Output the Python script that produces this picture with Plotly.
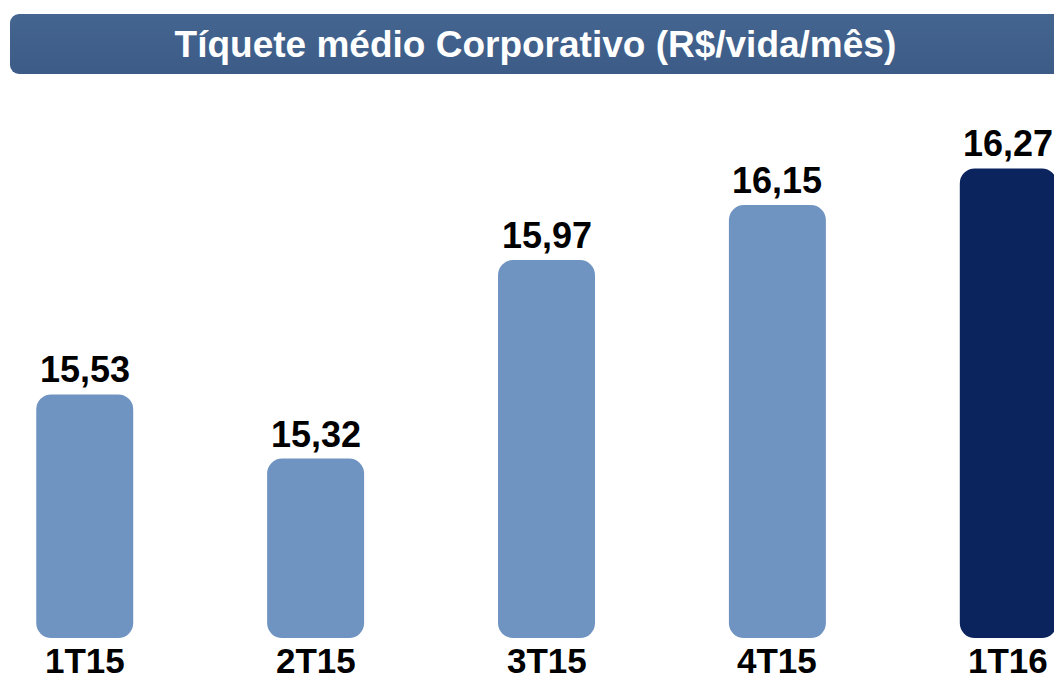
import plotly.graph_objects as go

categories = ["1T15", "2T15", "3T15", "4T15", "1T16"]
values = [15.53, 15.32, 15.97, 16.15, 16.27]
value_labels = ["15,53", "15,32", "15,97", "16,15", "16,27"]
bar_colors = ["#6F94C1", "#6F94C1", "#6F94C1", "#6F94C1", "#0B245E"]
title_text = "Tíquete médio Corporativo (R$/vida/mês)"

FONT = "Liberation Sans, Arial, sans-serif"
W, H = 1054, 682
MT, MB = 100, 36
PH = H - MT - MB
BAR_FLOOR = 14.732          # visual baseline of the bars
Y_RANGE = [14.706, 16.494]  # value axis (hidden)

fig = go.Figure()
fig.add_trace(go.Bar(
    x=categories, y=[v - BAR_FLOOR for v in values], base=BAR_FLOOR,
    customdata=values,
    marker=dict(color=bar_colors, cornerradius=15, line=dict(width=0)),
    width=0.42, hoverinfo="skip",
))

for c, v, t in zip(categories, values, value_labels):
    fig.add_annotation(
        x=c, y=v, text=f"<b>{t}</b>", showarrow=False,
        yanchor="bottom", yshift=2,
        font=dict(family=FONT, size=36, color="#000000"),
    )
for c in categories:
    fig.add_annotation(
        x=c, y=0, yref="paper", text=f"<b>{c}</b>", showarrow=False,
        yanchor="top", yshift=7,
        font=dict(family=FONT, size=35, color="#000000"),
    )

fig.update_layout(
    width=W, height=H,
    margin=dict(l=0, r=0, t=MT, b=MB),
    paper_bgcolor="#FFFFFF",
    plot_bgcolor="rgba(0,0,0,0)",
    showlegend=False,
    xaxis=dict(
        range=[-0.367, 4.198], showgrid=False, zeroline=False, showline=False,
        ticks="", showticklabels=False, fixedrange=True,
    ),
    yaxis=dict(range=Y_RANGE, visible=False, fixedrange=True),
    title=dict(
        text=f"<b>{title_text}</b>", x=0.508, xanchor="center",
        y=1 - 44 / H, yanchor="middle", xref="paper", yref="container",
        font=dict(family=FONT, size=37, color="#FFFFFF"),
    ),
)

# title banner (rounded rectangle with a soft vertical gradient)
x0, y0, bw, bh = 10, 14, 1060, 60
fig.add_layout_image(
    dict(
        source="data:image/svg+xml;utf8,"
        "%3Csvg xmlns='http://www.w3.org/2000/svg' width='1060' height='60'%3E"
        "%3Cdefs%3E%3ClinearGradient id='g' x1='0' y1='0' x2='0' y2='1'%3E"
        "%3Cstop offset='0' stop-color='%23446590'/%3E%3Cstop offset='1' stop-color='%233C5C87'/%3E"
        "%3C/linearGradient%3E%3C/defs%3E"
        "%3Crect x='0' y='0' width='1060' height='60' rx='9' ry='9' fill='url(%23g)'/%3E%3C/svg%3E",
        xref="paper", yref="paper",
        x=x0 / W, y=1 + (MT - y0) / PH,
        sizex=bw / W, sizey=bh / PH,
        xanchor="left", yanchor="top", sizing="stretch", layer="below",
    )
)

fig.write_html("out.html", config={"displayModeBar": False},
               post_script="document.body.style.margin='0';")
